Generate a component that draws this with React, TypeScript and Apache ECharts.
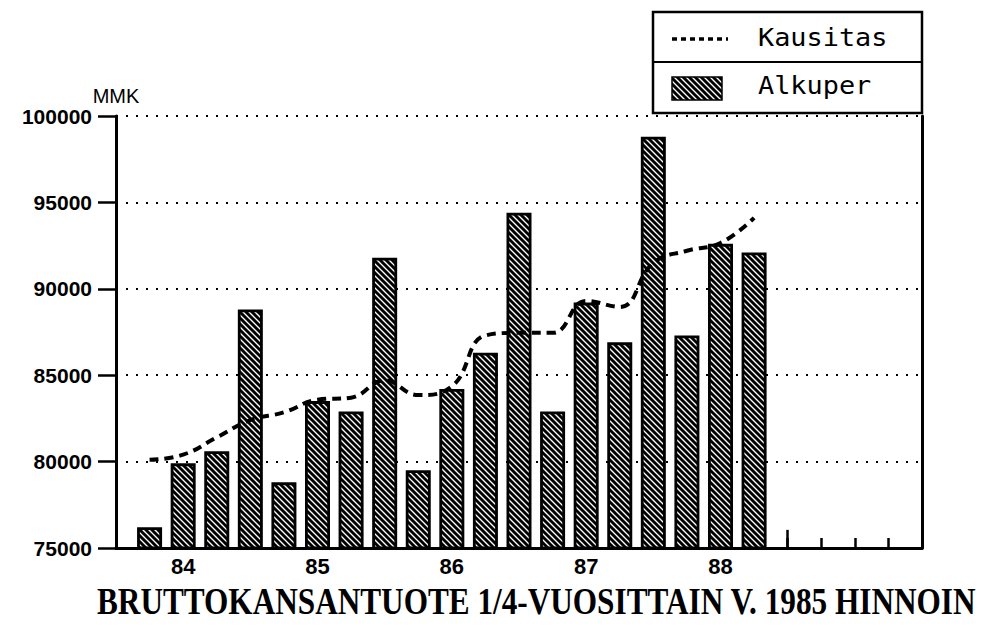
import React, { useEffect, useRef } from "react";
import * as echarts from "echarts";

// Quarters (position on the x axis = index + 1)
const quarters = [
  "83/4", "84/1", "84/2", "84/3", "84/4", "85/1", "85/2", "85/3", "85/4",
  "86/1", "86/2", "86/3", "86/4", "87/1", "87/2", "87/3", "87/4", "88/1", "88/2",
];
// Original (bars)
const alkuper = [
  76200, 79900, 80600, 88800, 78800, 83500, 82900, 91800, 79500, 84200,
  86300, 94400, 82900, 89200, 86900, 98800, 87300, 92600, 92100,
];
// Seasonally adjusted (dashed line)
const kausitas = [
  80100, 80400, 81400, 82400, 82850, 83580, 83700, 84700, 83850, 84350,
  87300, 87450, 87450, 89300, 88950, 91500, 92200, 92650, 94100,
];
const yTicks = [75000, 80000, 85000, 90000, 95000, 100000];
const xSlots = 24;
const tallTickPos = 20;
const titleText = "BRUTTOKANSANTUOTE 1/4-VUOSITTAIN V. 1985 HINNOIN";

const hatchSvg =
  "<svg xmlns='http://www.w3.org/2000/svg' width='6' height='6'>" +
  "<rect width='6' height='6' fill='white'/>" +
  "<path d='M0,0L6,6M-1,5L1,7M5,-1L7,1' stroke='black' stroke-width='2.9'/></svg>";
const hatchUrl = "data:image/svg+xml;charset=utf-8," + encodeURIComponent(hatchSvg);
const hatch: any = { image: hatchUrl, repeat: "repeat", imageWidth: 6, imageHeight: 6 };

const SANS = '"Liberation Sans", Arial, sans-serif';
const MONO = '"DejaVu Sans Mono", "Liberation Mono", monospace';

export default function App() {
  const ref = useRef<HTMLDivElement>(null);
  useEffect(() => {
    if (!ref.current) return;
    const chart = echarts.init(ref.current, null, { renderer: "svg" });
    const option: any = {
      animation: false,
      backgroundColor: "#fff",
      grid: { left: 116, right: 72, top: 116, bottom: 95, containLabel: false },
      xAxis: {
        type: "value",
        min: 0,
        max: xSlots,
        interval: 1,
        axisLine: { show: true, onZero: false, lineStyle: { color: "#000", width: 3 } },
        axisTick: { show: true, inside: true, length: 10, lineStyle: { color: "#000", width: 2.5 } },
        splitLine: { show: false },
        axisLabel: {
          margin: 7,
          color: "#000",
          fontFamily: SANS,
          fontWeight: "bold",
          fontSize: 22,
          formatter: (v: number) => {
            const q = quarters[v - 1];
            return q && q.endsWith("/1") ? q.slice(0, 2) : "";
          },
        },
      },
      yAxis: [
        {
          type: "value",
          min: yTicks[0],
          max: yTicks[yTicks.length - 1],
          interval: 5000,
          name: "MMK",
          nameLocation: "end",
          nameGap: 10,
          nameTextStyle: { color: "#000", fontFamily: SANS, fontSize: 20 },
          axisLine: { show: true, lineStyle: { color: "#000", width: 3 } },
          axisTick: { show: true, length: 18, lineStyle: { color: "#000", width: 2.5 } },
          axisLabel: {
            margin: 24,
            color: "#000",
            fontFamily: SANS,
            fontWeight: "bold",
            fontSize: 21,
            formatter: (v: number) => String(v),
          },
          splitLine: { show: true, lineStyle: { color: "#000", width: 2, type: [2, 8] } },
        },
        {
          type: "value",
          position: "right",
          min: yTicks[0],
          max: yTicks[yTicks.length - 1],
          interval: 5000,
          axisLine: { show: true, lineStyle: { color: "#000", width: 3 } },
          axisTick: { show: false },
          axisLabel: { show: false },
          splitLine: { show: false },
        },
      ],
      series: [
        {
          name: "Alkuper",
          type: "bar",
          barWidth: 25,
          data: alkuper.map((v, i) => [i + 1, v]),
          itemStyle: { color: hatch, borderColor: "#000", borderWidth: 2.8 },
          markLine: {
            silent: true,
            symbol: "none",
            label: { show: false },
            lineStyle: { color: "#000", width: 2.5, type: "solid" },
            data: [[{ coord: [tallTickPos, yTicks[0]] }, { coord: [tallTickPos, yTicks[0] + 1050] }]],
          },
        },
        {
          name: "Kausitas",
          type: "line",
          smooth: 0.45,
          symbol: "none",
          data: kausitas.map((v, i) => [i + 1, v]),
          lineStyle: { color: "#000", width: 4, type: [9, 6] },
          z: 5,
        },
      ],
      graphic: [
        {
          type: "group",
          z: 100,
          children: [
            {
              type: "rect",
              shape: { x: 653, y: 12, width: 269, height: 101 },
              style: { fill: "#fff", stroke: "#000", lineWidth: 2.5 },
            },
            {
              type: "line",
              shape: { x1: 653, y1: 62, x2: 922, y2: 62 },
              style: { stroke: "#000", lineWidth: 2 },
            },
            {
              type: "line",
              shape: { x1: 672, y1: 39, x2: 728, y2: 39 },
              style: { stroke: "#000", lineWidth: 3.5, lineDash: [5, 4] },
            },
            {
              type: "text",
              x: 758,
              y: 38,
              scaleX: 1.12,
              style: {
                text: "Kausitas",
                fill: "#000",
                font: "24px " + MONO,
                textVerticalAlign: "middle",
              },
            },
            {
              type: "rect",
              shape: { x: 672, y: 77, width: 50, height: 23 },
              style: { fill: hatch, stroke: "#000", lineWidth: 1.5 },
            },
            {
              type: "text",
              x: 758,
              y: 86,
              scaleX: 1.12,
              style: {
                text: "Alkuper",
                fill: "#000",
                font: "24px " + MONO,
                textVerticalAlign: "middle",
              },
            },
          ],
        },
        {
          type: "text",
          x: 97,
          y: 601,
          scaleX: 0.868,
          scaleY: 1.04,
          z: 100,
          style: {
            text: titleText,
            fill: "#000",
            font: 'bold 36px "Liberation Serif", "DejaVu Serif", serif',
            textVerticalAlign: "middle",
          },
        },
      ],
    };
    chart.setOption(option);
    return () => chart.dispose();
  }, []);
  return <div ref={ref} style={{ width: 994, height: 643, position: "absolute", left: 0, top: 0 }} />;
}
